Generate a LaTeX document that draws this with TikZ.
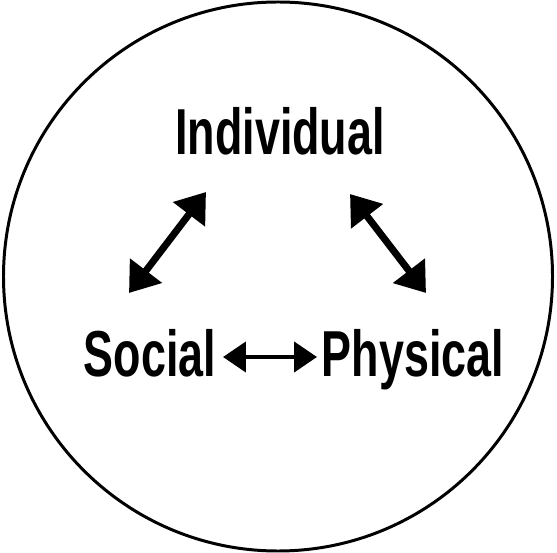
\documentclass[tikz,border=0pt]{standalone}
\usepackage{fontspec}
\setmainfont{Liberation Sans}[FakeStretch=0.69]
\usetikzlibrary{arrows.meta}

\tikzset{
  word/.style={font=\bfseries\fontsize{37}{42}\selectfont, inner sep=0pt, anchor=base},
  bigarrow/.style={line width=4pt, {Triangle[length=16pt,width=22pt]}-{Triangle[length=16pt,width=22pt]}},
  smallarrow/.style={line width=2.4pt, {Triangle[length=13pt,width=17pt]}-{Triangle[length=13pt,width=17pt]}}
}

\begin{document}
\begin{tikzpicture}[x=0.02cm,y=-0.02cm]
\useasboundingbox (0,0) rectangle (557,553);

% Cercle
\draw[line width=1.7pt] (278,276.5) circle (274.5);

% Mots
\node[word] (indiv) at (280,155) {Individual};
\node[word] (social) at (150,377) {Social};
\node[word] (phys) at (413,377) {Physical};

% Extremites des fleches
\coordinate (si-a) at (129,293);
\coordinate (si-b) at (206,192);
\coordinate (ip-a) at (350,194);
\coordinate (ip-b) at (426,293);
\coordinate (sp-a) at (223,357);
\coordinate (sp-b) at (317,357);

\draw[bigarrow] (si-a) -- (si-b);
\draw[bigarrow] (ip-a) -- (ip-b);
\draw[smallarrow] (sp-a) -- (sp-b);

\end{tikzpicture}
\end{document}
